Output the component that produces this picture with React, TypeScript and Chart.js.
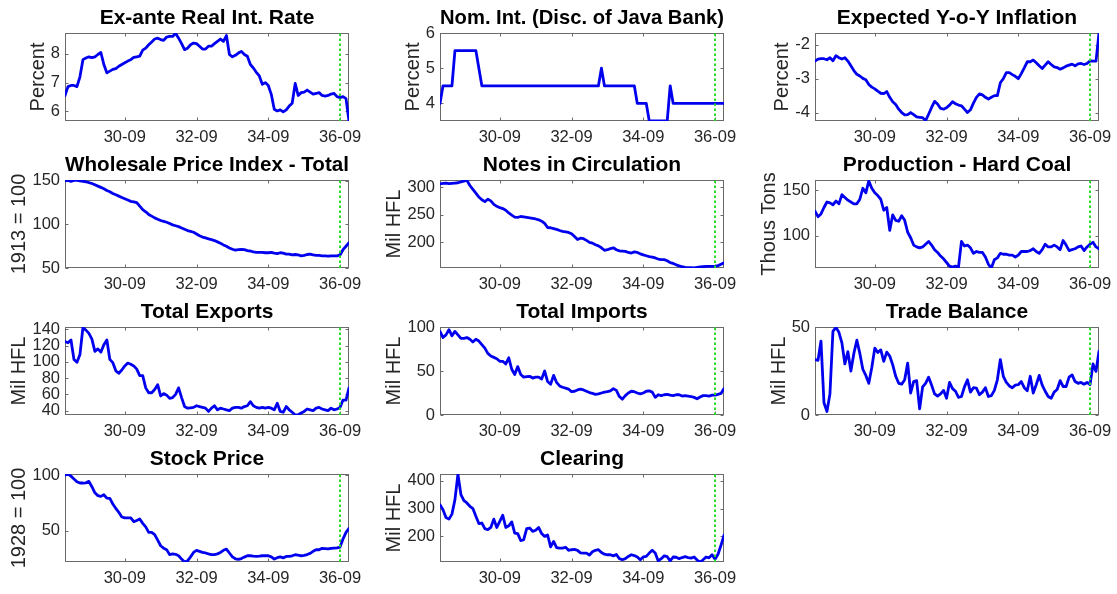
import React, { useEffect, useRef } from "react";
import { Chart, registerables } from "chart.js";

Chart.register(...registerables);

// Monthly observations, January 1929 .. December 1936 (96 months); x = month index
const MONTH_COUNT = 96;
const TICK_VALUES = [20, 44, 68, 92];
const TICK_LABELS = ["30-09", "32-09", "34-09", "36-09"];
const MARKER_MONTH = 92; // 1936-09

const REAL_RATE = [
  6.55, 6.86, 6.9, 6.9, 6.86, 7.2, 7.8, 7.86, 7.9, 7.87, 7.9, 7.98,
  8.05, 7.63, 7.34, 7.4, 7.46, 7.49, 7.57, 7.63, 7.69, 7.75, 7.8, 7.88,
  7.9, 7.92, 8.13, 8.2, 8.32, 8.42, 8.52, 8.55, 8.5, 8.47, 8.59, 8.61,
  8.61, 8.72, 8.55, 8.36, 8.15, 8.2, 8.32, 8.38, 8.36, 8.27, 8.17, 8.17,
  8.27, 8.27, 8.36, 8.44, 8.52, 8.44, 8.64, 7.98, 7.9, 7.95, 8.03, 8.09,
  7.98, 7.92, 7.63, 7.51, 7.36, 7.23, 6.94, 7.0, 6.9, 6.59, 6.07, 6.01,
  6.05, 5.98, 6.05, 6.18, 6.28, 6.97, 6.55, 6.65, 6.67, 6.74, 6.67, 6.6,
  6.62, 6.65, 6.55, 6.53, 6.55, 6.6, 6.62, 6.51, 6.47, 6.51, 6.44, 5.66,
];

const DISCOUNT_RATE = [
  4, 4.5, 4.5, 4.5, 4.5, 5.5, 5.5, 5.5, 5.5, 5.5, 5.5, 5.5,
  5.5, 5, 4.5, 4.5, 4.5, 4.5, 4.5, 4.5, 4.5, 4.5, 4.5, 4.5,
  4.5, 4.5, 4.5, 4.5, 4.5, 4.5, 4.5, 4.5, 4.5, 4.5, 4.5, 4.5,
  4.5, 4.5, 4.5, 4.5, 4.5, 4.5, 4.5, 4.5, 4.5, 4.5, 4.5, 4.5,
  4.5, 4.5, 4.5, 4.5, 4.5, 4.5, 5, 4.5, 4.5, 4.5, 4.5, 4.5,
  4.5, 4.5, 4.5, 4.5, 4.5, 4.5, 4, 4, 4, 4, 3.5, 3.5,
  3.5, 3.5, 3.5, 3.5, 3.5, 4.5, 4, 4, 4, 4, 4, 4,
  4, 4, 4, 4, 4, 4, 4, 4, 4, 4, 4, 4,
];

const EXP_INFLATION = [
  -2.48, -2.42, -2.41, -2.41, -2.44, -2.38, -2.47, -2.32, -2.38, -2.42, -2.38, -2.48,
  -2.62, -2.76, -2.87, -2.92, -2.99, -3.03, -3.17, -3.25, -3.3, -3.37, -3.43, -3.44,
  -3.38, -3.55, -3.68, -3.76, -3.9, -4.0, -4.07, -4.06, -4.0, -4.06, -4.13, -4.14,
  -4.15, -4.24, -4.05, -3.85, -3.67, -3.75, -3.88, -3.9, -3.86, -3.78, -3.68, -3.74,
  -3.78, -3.8, -3.9, -4.0, -3.92, -3.72, -3.55, -3.45, -3.48, -3.55, -3.6, -3.55,
  -3.5, -3.5, -3.12, -3.0, -2.82, -2.82, -2.88, -2.93, -3.0, -2.85, -2.68, -2.5,
  -2.5, -2.45, -2.53, -2.62, -2.7, -2.6, -2.5, -2.58, -2.65, -2.67, -2.72, -2.68,
  -2.63, -2.6, -2.57, -2.62, -2.56, -2.55, -2.58, -2.55, -2.47, -2.48, -2.48, -1.65,
];

const WPI = [
  150, 150.5, 149.5, 150.5, 150.5, 150, 149.5, 149, 148, 147, 145.5, 144,
  142.5, 141, 139, 137.5, 135.5, 134, 132.5, 131, 129.5, 128, 126.5, 126,
  125, 121, 117, 114.5, 111.5, 109.5, 107.5, 106, 104.5, 103.5, 102.5, 101,
  99.5, 98.5, 97.5, 96, 94.5, 93, 92, 91, 89, 87, 85.5, 84.5,
  83.5, 82.5, 81.5, 80, 78.5, 76.5, 75, 73, 71.5, 70.5, 71, 71.5,
  71, 70, 69.5, 68.5, 68, 68, 68, 67.5, 67.5, 68, 67, 66.5,
  67.5, 67, 66, 66, 65, 65.5, 65, 64, 64.5, 65.5, 66, 65,
  64.5, 64.5, 64, 64, 63.5, 64, 64, 64, 65, 71, 75, 79,
];

const NOTES = [
  306, 307, 307.5, 306.5, 307, 307.5, 308, 309.5, 311, 312.5, 303, 296,
  289, 282, 277, 273.5, 278, 275, 268.5, 265, 262.5, 261, 258, 253,
  249, 245.5, 245, 246.5, 246, 245, 244, 243, 242, 240.5, 238, 234,
  226.5, 226, 224.5, 223, 221, 219.5, 218.5, 217.5, 215, 210, 204.5, 207,
  206, 203, 199.5, 198, 195, 193, 189.5, 185, 186, 188, 189.5, 186,
  184, 183.5, 183, 181, 180, 182, 181, 178.5, 176.5, 175, 173.5, 172.5,
  171, 169, 168, 168, 166, 162.5, 161, 158.5, 156.5, 155, 154, 153.5,
  153.5, 153, 154, 154.5, 155, 155.5, 155.8, 155.8, 155.8, 157, 159.5, 162,
];

const COAL = [
  127, 121, 124, 131, 137, 136, 134, 138, 135, 145, 142, 139,
  137, 135, 135, 140, 152, 147, 160, 152, 147, 144, 140, 128,
  131, 106, 123, 117, 116, 122, 117, 104, 98, 90, 88, 87,
  88, 91, 94, 90, 85, 82, 78, 75, 71, 67, 66, 67,
  66, 94, 89, 90, 87, 81, 83, 82, 82, 77, 69, 65,
  74, 76, 81, 80, 80, 79, 79, 77, 79, 83, 83, 83,
  84, 86, 83, 81, 85, 91, 88, 88, 90, 88, 85, 95,
  90, 84, 85, 86, 88, 89, 84, 88, 91, 93, 88, 86,
];

const EXPORTS = [
  125, 123.5, 127, 103, 99.5, 109, 142.5, 139, 135, 128, 113, 116,
  112, 121, 127, 103, 99, 89, 86, 90, 95, 98.5, 97, 95,
  91, 83, 83, 68, 62, 62, 66, 72, 58, 61, 59, 55,
  56, 60, 68, 56, 45, 43, 43.5, 44, 46, 45, 44, 43,
  39, 43, 46, 41, 43, 42, 41, 40, 43, 44, 44, 43,
  45, 46, 51, 46, 44, 43, 44, 43, 44, 43, 41, 49,
  39, 38, 45, 41, 38, 34.6, 35, 37, 39, 42, 41, 40,
  43, 44, 42, 41, 40, 43, 41, 42, 44, 53, 53, 68,
];

const IMPORTS = [
  95, 88, 91, 97, 90, 95, 91, 87, 87, 88, 86, 83,
  86, 84, 80, 76, 70, 67, 65.5, 64, 61, 61, 58, 65,
  52, 46, 55, 46, 43, 43.5, 44, 42, 43, 43, 41, 50,
  38, 35, 45, 37, 33, 31.5, 30.5, 29.5, 26.5, 27, 28.5, 29.5,
  28.5, 27, 25.5, 24.5, 23.5, 24, 25, 26, 26.5, 27.5, 30, 28,
  21, 18, 22, 25, 27, 26.5, 25, 24, 25, 27, 27.5, 26,
  20, 23, 22, 23, 23.5, 22.5, 22, 23, 23, 21.5, 22, 21.5,
  21, 20, 18.5, 20.5, 22, 22, 21.5, 22.5, 22.5, 23.5, 24.5, 30,
];

const TRADE_BALANCE = [
  31.5, 31, 42, 7, 2, 12, 47.5, 49.8, 47, 41, 29, 36,
  25, 35, 42.5, 35, 26, 22.5, 18, 27, 38, 35.5, 37, 30.5,
  35.7, 33.5, 28.5, 22, 18, 17.5, 20, 29.5, 12.5, 19, 19.5, 3.5,
  16, 18, 21.5, 17, 12, 10.8, 12, 14, 9.5, 18.5, 15, 13.5,
  10, 10.5, 16, 20, 13, 15.5, 15.3, 11.5, 13, 15.5, 10.5, 11,
  14, 20, 31.5, 22, 18.5, 16.5, 15.5, 17, 17.2, 19, 15.5, 13.8,
  22, 12.5, 17.2, 22.5, 17, 13.5, 10.5, 9.5, 13, 14.5, 19.5, 16.2,
  16.2, 21.5, 22.8, 19, 18, 18.5, 17.5, 18.5, 17.2, 29, 24.8, 36.3,
];

const STOCK_PRICE = [
  99.7, 100.9, 99, 96.5, 94, 92.8, 92.8, 93, 94.3, 89.5, 84, 81.5,
  80.8, 82.3, 79.3, 79, 74, 70, 66.5, 62.3, 61.5, 61.5, 61.5, 58.2,
  59.2, 60.5, 56.6, 53.4, 48.5, 48.5, 46.5, 41.5, 36.5, 34.3, 33, 28.5,
  29.2, 28.8, 27.5, 24.5, 21.9, 23, 26.5, 30.5, 32.3, 31.4, 30.5, 30,
  29.2, 28.5, 28.6, 29.2, 30.5, 32.4, 33.5, 30, 26.5, 24.8, 24.2, 25,
  26.3, 27.5, 27.5, 27.2, 27, 27.2, 27.5, 27.5, 27.5, 26.5, 24.6, 25.8,
  26.5, 25.6, 26.9, 26.9, 27.5, 28.4, 28.1, 27.5, 27.8, 28.6, 29.6, 31.5,
  32.9, 32.9, 34.2, 34, 33.7, 34.2, 34.4, 34.6, 35.3, 42.5, 48.5, 52,
];

const CLEARING = [
  314, 296, 268, 262, 280, 332, 423, 350, 328, 320, 308, 300,
  272, 246, 248, 228, 224, 232, 262, 232, 254, 276, 232, 238,
  252, 212, 210, 185, 188, 228, 230, 218, 222, 232, 210, 200,
  205, 162, 182, 160, 158, 158, 161, 150, 152, 153, 150, 141,
  140, 140, 133, 145, 150, 152, 142, 136, 134, 134, 130, 135,
  120, 116, 120, 128, 134, 131, 126, 116, 126, 128, 140, 150,
  140, 112, 120, 130, 127, 112, 126, 125, 120, 124, 127, 124,
  122, 126, 115, 108, 116, 126, 123, 134, 118, 136, 168, 204,
];

type PanelSpec = {
  title: string;
  ylabel: string;
  values: number[];
  yMin: number;
  yMax: number;
  yTicks: number[];
  row: number;
  col: number;
};

const PANELS: PanelSpec[] = [
  { title: "Ex-ante Real Int. Rate", ylabel: "Percent", values: REAL_RATE, yMin: 5.66, yMax: 8.73, yTicks: [6, 7, 8], row: 0, col: 0 },
  { title: "Nom. Int. (Disc. of Java Bank)", ylabel: "Percent", values: DISCOUNT_RATE, yMin: 3.5, yMax: 6, yTicks: [4, 5, 6], row: 0, col: 1 },
  { title: "Expected Y-o-Y Inflation", ylabel: "Percent", values: EXP_INFLATION, yMin: -4.25, yMax: -1.65, yTicks: [-4, -3, -2], row: 0, col: 2 },
  { title: "Wholesale Price Index - Total", ylabel: "1913 = 100", values: WPI, yMin: 50, yMax: 151, yTicks: [50, 100, 150], row: 1, col: 0 },
  { title: "Notes in Circulation", ylabel: "Mil HFL", values: NOTES, yMin: 152.7, yMax: 313, yTicks: [200, 250, 300], row: 1, col: 1 },
  { title: "Production - Hard Coal", ylabel: "Thous Tons", values: COAL, yMin: 65, yMax: 161, yTicks: [100, 150], row: 1, col: 2 },
  { title: "Total Exports", ylabel: "Mil HFL", values: EXPORTS, yMin: 34.6, yMax: 142.9, yTicks: [40, 60, 80, 100, 120, 140], row: 2, col: 0 },
  { title: "Total Imports", ylabel: "Mil HFL", values: IMPORTS, yMin: 0, yMax: 100, yTicks: [0, 50, 100], row: 2, col: 1 },
  { title: "Trade Balance", ylabel: "Mil HFL", values: TRADE_BALANCE, yMin: 0, yMax: 50, yTicks: [0, 50], row: 2, col: 2 },
  { title: "Stock Price", ylabel: "1928 = 100", values: STOCK_PRICE, yMin: 21.9, yMax: 100.9, yTicks: [50, 100], row: 3, col: 0 },
  { title: "Clearing", ylabel: "Mil HFL", values: CLEARING, yMin: 108, yMax: 424, yTicks: [200, 300, 400], row: 3, col: 1 },
];

// ---- layout / style ----
const FONT = '"Liberation Sans", Arial, Helvetica, sans-serif';
const COL_LEFT = [65, 440, 815];
const ROW_TOP = [33, 180, 327, 474];
const PLOT_W = 284;
const PLOT_H = 88;
const YW = 62;
const TH = 33;
const XH = 30;
const PAD_R = 18;
const CW = YW + PLOT_W + PAD_R;
const CH = TH + PLOT_H + XH;
const TICK_SIZE = 16.5;
const YLABEL_SIZE = 20;
const TITLE_SIZE = 21;
const YTITLE_GAP = 17.5;
const TEXT_COLOR = "#262626";
const FRAME_COLOR = "#6a6a6a";
const TICK_LEN = 3;
const LINE_COLOR = "#0000ee";
const MARKER_COLOR = "rgb(40,220,40)";

function maxLabelWidth(labels: string[]): number {
  const ctx = document.createElement("canvas").getContext("2d")!;
  ctx.font = `${TICK_SIZE}px ${FONT}`;
  return Math.max(...labels.map((l) => ctx.measureText(l).width));
}

const framePlugin = {
  id: "matlabFrame",
  beforeDatasetsDraw(chart: any) {
    const { ctx, chartArea: a, scales } = chart;
    const L = Math.round(a.left) + 0.5;
    const R = Math.round(a.right) - 0.5;
    const T = Math.round(a.top) + 0.5;
    const B = Math.round(a.bottom) - 0.5;
    ctx.save();
    ctx.strokeStyle = FRAME_COLOR;
    ctx.lineWidth = 1;
    ctx.strokeRect(L, T, R - L, B - T);
    ctx.beginPath();
    for (const t of scales.x.ticks) {
      const px = Math.round(scales.x.getPixelForValue(t.value)) + 0.5;
      ctx.moveTo(px, B);
      ctx.lineTo(px, B - TICK_LEN);
      ctx.moveTo(px, T);
      ctx.lineTo(px, T + TICK_LEN);
    }
    for (const t of scales.y.ticks) {
      const py = Math.round(scales.y.getPixelForValue(t.value)) + 0.5;
      ctx.moveTo(L, py);
      ctx.lineTo(L + TICK_LEN, py);
      ctx.moveTo(R, py);
      ctx.lineTo(R - TICK_LEN, py);
    }
    ctx.stroke();
    ctx.restore();
  },
};

function Panel({ spec }: { spec: PanelSpec }) {
  const ref = useRef<HTMLCanvasElement | null>(null);
  useEffect(() => {
    const canvas = ref.current;
    if (!canvas) return;
    const labelW = maxLabelWidth(spec.yTicks.map(String));
    const yTitleLine = YLABEL_SIZE * 1.2;
    const yTitlePadTop = Math.max(0, YW - (labelW + YTITLE_GAP) - yTitleLine / 2);
    const lineData = spec.values.map((v, i) => ({ x: i, y: v }));
    const chart = new Chart(canvas, {
      type: "line",
      data: {
        datasets: [
          {
            data: [
              { x: MARKER_MONTH, y: spec.yMin },
              { x: MARKER_MONTH, y: spec.yMax },
            ],
            borderColor: MARKER_COLOR,
            borderWidth: 2,
            borderDash: [2.5, 2.5],
            pointRadius: 0,
            fill: false,
          },
          {
            data: lineData,
            borderColor: LINE_COLOR,
            borderWidth: 2.8,
            pointRadius: 0,
            tension: 0,
            fill: false,
            borderJoinStyle: "round",
            borderCapStyle: "round",
          },
        ],
      },
      options: {
        animation: false,
        responsive: false,
        events: [],
        layout: { padding: { left: 0, right: PAD_R, top: 0, bottom: 0 } },
        plugins: {
          legend: { display: false },
          tooltip: { enabled: false },
          title: {
            display: true,
            text: spec.title,
            fullSize: false,
            color: "#000",
            font: { family: FONT, size: TITLE_SIZE, weight: "bold", lineHeight: 1.2 },
            padding: { top: 5.4, bottom: TH - TITLE_SIZE * 1.2 - 5.4 },
          },
        },
        scales: {
          x: {
            type: "linear",
            min: 0,
            max: MONTH_COUNT - 1,
            afterBuildTicks: (s: any) => {
              s.ticks = TICK_VALUES.map((v) => ({ value: v }));
            },
            afterFit: (s: any) => {
              s.height = XH;
              s.paddingLeft = 0;
              s.paddingRight = 0;
            },
            grid: { display: false, drawTicks: false },
            border: { display: false },
            ticks: {
              autoSkip: false,
              maxRotation: 0,
              padding: 7,
              color: TEXT_COLOR,
              font: { family: FONT, size: TICK_SIZE, lineHeight: 1.2 },
              callback: (_v: any, i: number) => TICK_LABELS[i],
            },
          },
          y: {
            type: "linear",
            min: spec.yMin,
            max: spec.yMax,
            afterBuildTicks: (s: any) => {
              s.ticks = spec.yTicks.map((v) => ({ value: v }));
            },
            afterFit: (s: any) => {
              s.width = YW;
              s.paddingTop = 0;
              s.paddingBottom = 0;
            },
            grid: { display: false, drawTicks: false },
            border: { display: false },
            ticks: {
              autoSkip: false,
              padding: 5,
              color: TEXT_COLOR,
              font: { family: FONT, size: TICK_SIZE, lineHeight: 1.2 },
              callback: (v: any) => String(v),
            },
            title: {
              display: true,
              text: spec.ylabel,
              color: TEXT_COLOR,
              font: { family: FONT, size: YLABEL_SIZE, lineHeight: 1.2 },
              padding: { top: yTitlePadTop, bottom: 0 },
            },
          },
        },
      },
      plugins: [framePlugin],
    } as any);
    return () => chart.destroy();
  }, [spec]);

  const left = COL_LEFT[spec.col] - YW;
  const top = ROW_TOP[spec.row] - TH;
  return (
    <canvas
      ref={ref}
      width={CW}
      height={CH}
      style={{ position: "absolute", left, top, width: CW, height: CH }}
    />
  );
}

export default function App() {
  return (
    <div
      style={{
        position: "absolute",
        left: 0,
        top: 0,
        width: 1117,
        height: 594,
        background: "#fff",
        overflow: "hidden",
      }}
    >
      {PANELS.map((p) => (
        <Panel key={p.title} spec={p} />
      ))}
    </div>
  );
}
